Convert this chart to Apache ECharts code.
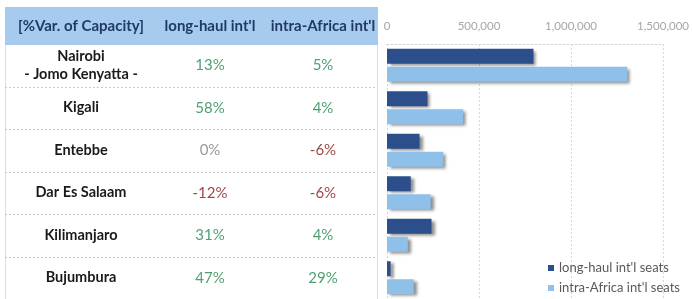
<!DOCTYPE html>
<html><head><meta charset="utf-8">
<script src="https://cdn.jsdelivr.net/npm/echarts@6/dist/echarts.min.js"></script>
<style>html,body{margin:0;padding:0;background:#fff}#c{width:692px;height:299px}</style>
</head><body><div id="c"></div>
<script>
const cities = ['Nairobi\n- Jomo Kenyatta -', 'Kigali', 'Entebbe', 'Dar Es Salaam', 'Kilimanjaro', 'Bujumbura'];
const longHaulSeats = [796000, 220000, 177000, 129000, 242000, 20000];
const intraAfricaSeats = [1306000, 414000, 306000, 237000, 113000, 145000];
const longHaulVar = [13, 58, 0, -12, 31, 47];
const intraAfricaVar = [5, 4, -6, -6, 4, 29];
const headers = ['[%Var. of Capacity]', "long-haul int'l", "intra-Africa int'l"];
const seriesNames = ["long-haul int'l seats", "intra-Africa int'l seats"];
const xMax = 1500000;
const xStep = 500000;

const FONT = 'Lato';
const chart = echarts.init(document.getElementById('c'), null, {renderer: 'canvas'});
const barShadow = {shadowColor: 'rgba(0,0,0,0.45)', shadowBlur: 3, shadowOffsetX: 3, shadowOffsetY: 2};
chart.setOption({
  animation: false,
  textStyle: {fontFamily: FONT},
  grid: {left: 387, right: 27, top: 44, bottom: 0},
  xAxis: {
    type: 'value', position: 'top', min: 0, max: xMax, interval: xStep,
    axisLabel: {color: '#a6a6a6', fontSize: 11.5, margin: 12, fontFamily: FONT,
      formatter: v => v.toLocaleString('en-US')},
    axisLine: {show: true, lineStyle: {color: '#d6d6d6', type: [2, 2]}},
    axisTick: {show: false},
    splitLine: {show: true, lineStyle: {color: '#d6d6d6', type: [2, 2]}}
  },
  yAxis: {
    type: 'category', data: cities, inverse: true,
    axisLabel: {show: false}, axisTick: {show: false}, axisLine: {show: false}
  },
  legend: {
    orient: 'vertical', left: 548, top: 261, height: 38, itemWidth: 6, itemHeight: 6, itemGap: 6,
    icon: 'rect', itemTextGap: 3, padding: 0,
    textStyle: {color: '#595959', fontSize: 13, fontFamily: FONT, lineHeight: 14},
    itemStyle: {shadowBlur: 0, shadowOffsetX: 0, shadowOffsetY: 0, shadowColor: 'rgba(0,0,0,0)'},
    data: seriesNames
  },
  series: [
    {name: seriesNames[0], type: 'bar', data: longHaulSeats, barWidth: 15, barGap: '20%',
     itemStyle: Object.assign({color: '#2c4f8c'}, barShadow)},
    {name: seriesNames[1], type: 'bar', data: intraAfricaSeats, barWidth: 15, barGap: '20%',
     itemStyle: Object.assign({color: '#8fc0ea'}, barShadow)}
  ]
});

// Build the left-hand table aligned with the category rows
const colX = [81, 210, 323];
const tblL = 5, tblR = 377;
const g = [];
g.push({type: 'rect', shape: {x: tblL, y: 7, width: tblR - tblL + 1, height: 38}, style: {fill: '#a7cbee'}, silent: true});
g.push({type: 'line', shape: {x1: tblL + 0.5, y1: 45, x2: tblL + 0.5, y2: 299}, style: {stroke: '#cfe1f3', lineWidth: 1}});
g.push({type: 'line', shape: {x1: tblR + 0.5, y1: 45, x2: tblR + 0.5, y2: 299}, style: {stroke: '#dcdcdc', lineWidth: 1}});
headers.forEach((h, i) => {
  g.push({type: 'text', x: colX[i], y: 26, z: 10, style: {text: h, fill: '#1f3b63', font: 'bold 15px ' + FONT, align: 'center', verticalAlign: 'middle'}});
});
const pctColor = v => v > 0 ? '#4f9f72' : (v < 0 ? '#a04646' : '#9a9a9a');
cities.forEach((c, i) => {
  const y = chart.convertToPixel({yAxisIndex: 0}, c);
  const half = 42.5 / 2;
  if (i > 0) {
    g.push({type: 'line', shape: {x1: tblL, y1: Math.round(y - half) + 0.5, x2: tblR, y2: Math.round(y - half) + 0.5},
      style: {stroke: '#c9c9c9', lineWidth: 1, lineDash: [2, 2]}});
  }
  g.push({type: 'text', x: colX[0], y: y, style: {text: c, fill: '#1a1a1a', font: 'bold 14.5px ' + FONT, align: 'center', verticalAlign: 'middle', lineHeight: 18}});
  g.push({type: 'text', x: colX[1], y: y, style: {text: longHaulVar[i] + '%', fill: pctColor(longHaulVar[i]), font: '15px ' + FONT, align: 'center', verticalAlign: 'middle'}});
  g.push({type: 'text', x: colX[2], y: y, style: {text: intraAfricaVar[i] + '%', fill: pctColor(intraAfricaVar[i]), font: '15px ' + FONT, align: 'center', verticalAlign: 'middle'}});
});
chart.setOption({graphic: g});
</script>
</body></html>
